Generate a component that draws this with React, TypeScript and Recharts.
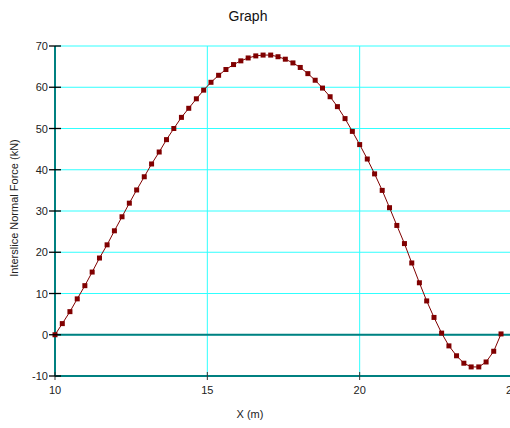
import {
  LineChart, Line, XAxis, YAxis, CartesianGrid, ReferenceLine,
} from 'recharts'

const xValues = [
  10.00, 10.24, 10.49, 10.73, 10.98, 11.22, 11.46, 11.71, 11.95, 12.20,
  12.44, 12.68, 12.93, 13.17, 13.42, 13.66, 13.90, 14.15, 14.39, 14.64,
  14.88, 15.12, 15.37, 15.61, 15.86, 16.10, 16.34, 16.59, 16.83, 17.08,
  17.32, 17.56, 17.81, 18.05, 18.30, 18.54, 18.78, 19.03, 19.27, 19.52,
  19.76, 20.00, 20.25, 20.49, 20.74, 20.98, 21.22, 21.47, 21.71, 21.96,
  22.20, 22.44, 22.69, 22.93, 23.18, 23.42, 23.66, 23.91, 24.15, 24.40,
  24.64,
]

const forceValues = [
  0, 2.7, 5.6, 8.7, 11.9, 15.2, 18.6, 21.8, 25.2, 28.6,
  31.9, 35.1, 38.3, 41.4, 44.3, 47.3, 50.0, 52.7, 54.9, 57.2,
  59.3, 61.2, 62.9, 64.3, 65.5, 66.4, 67.1, 67.6, 67.8, 67.8,
  67.4, 66.8, 65.9, 64.8, 63.3, 61.7, 59.8, 57.7, 55.3, 52.4,
  49.3, 46.1, 42.6, 39.0, 35.0, 30.8, 26.5, 22.1, 17.4, 12.6,
  8.2, 4.2, 0.4, -2.7, -5.1, -6.9, -7.8, -7.8, -6.6, -4.0,
  0.2,
]

const xTicks = [10, 15, 20, 25]
const yTicks = [-10, 0, 10, 20, 30, 40, 50, 60, 70]

const data = xValues.map((x, i) => ({ x, force: forceValues[i] }))

const FONT = '"Liberation Sans", Arial, sans-serif'
const CYAN = '#30ffff'
const TEAL = '#008080'
const RED = '#800000'

// recharts puts the tick anchor 8px outside the axis line (tickSize 6 + margin 2)
function YTick({ x, y, payload }: any) {
  return (
    <g>
      <line x1={x + 2} x2={x + 14} y1={y} y2={y} stroke="#000" strokeWidth={1.3} />
      <text x={x + 1} y={y + 4} textAnchor="end" fontSize={11} fill="#222" fontFamily={FONT}>
        {payload.value}
      </text>
    </g>
  )
}

function XTick({ x, y, payload }: any) {
  return (
    <g>
      <line x1={x} x2={x} y1={y - 12} y2={y - 4} stroke="#333" strokeWidth={1} />
      <text x={x} y={y + 10} textAnchor="middle" fontSize={11} fill="#222" fontFamily={FONT}>
        {payload.value}
      </text>
    </g>
  )
}

function SquareDot({ cx, cy, index }: any) {
  return <rect key={index} x={cx - 2.5} y={cy - 2.5} width={5} height={5} fill={RED} />
}

export default function App() {
  return (
    <div style={{ position: 'absolute', left: 0, top: 0, width: 510, height: 428, overflow: 'hidden', background: '#fff' }}>
      <div style={{ position: 'absolute', left: 0, top: 8, width: 496, textAlign: 'center', fontFamily: FONT, fontSize: 14, color: '#111' }}>
        Graph
      </div>
      <div style={{ position: 'absolute', left: 0, top: 408, width: 500, textAlign: 'center', fontFamily: FONT, fontSize: 11, color: '#222' }}>
        X (m)
      </div>
      <div style={{ position: 'absolute', left: 14, top: 208, width: 0, height: 0 }}>
        <div style={{ position: 'absolute', transform: 'translate(-50%, -50%) rotate(-90deg)', whiteSpace: 'nowrap', fontFamily: FONT, fontSize: 11, color: '#222' }}>
          Interslice Normal Force (kN)
        </div>
      </div>
      <div style={{ position: 'absolute', left: 0, top: 0 }}>
        <LineChart width={540} height={428} data={data} margin={{ top: 46, right: 28, left: 0, bottom: 0 }}>
          <CartesianGrid stroke={CYAN} strokeWidth={1} />
          <XAxis
            type="number"
            dataKey="x"
            domain={[10, 25]}
            ticks={xTicks}
            height={52}
            axisLine={{ stroke: TEAL, strokeWidth: 2 }}
            tickLine={false}
            tick={<XTick />}
          />
          <YAxis
            type="number"
            domain={[-10, 70]}
            ticks={yTicks}
            width={55}
            axisLine={{ stroke: TEAL, strokeWidth: 2 }}
            tickLine={false}
            tick={<YTick />}
          />
          <ReferenceLine y={0} stroke={TEAL} strokeWidth={2} />
          <Line
            type="linear"
            dataKey="force"
            stroke={RED}
            strokeWidth={1}
            dot={SquareDot}
            isAnimationActive={false}
          />
        </LineChart>
      </div>
    </div>
  )
}
